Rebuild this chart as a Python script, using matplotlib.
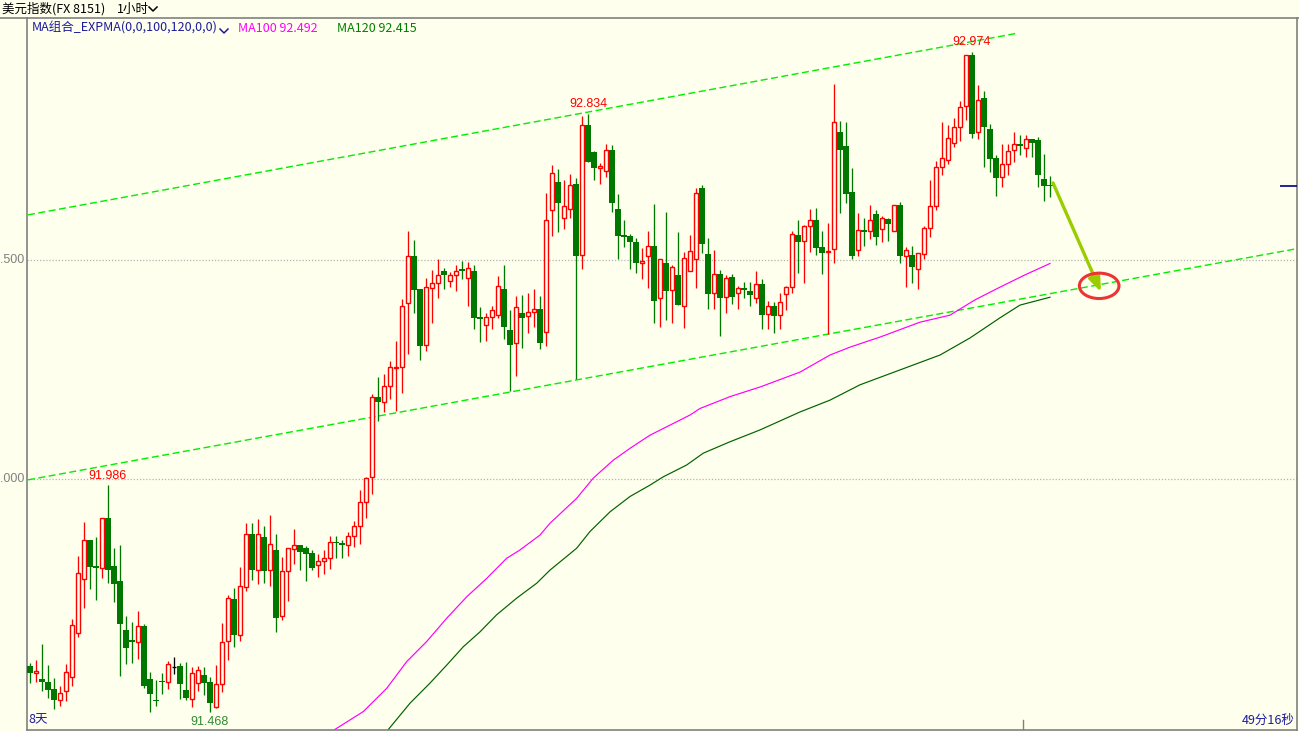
import numpy as np
import matplotlib
matplotlib.use("Agg")
import matplotlib.pyplot as plt
from matplotlib.patches import Ellipse

plt.rcParams['font.family'] = ['Noto Sans CJK SC', 'DejaVu Sans']

# hourly candles, oldest first (USD index, FX 8151)
opens = [
    91.573, 91.556, 91.543, 91.537, 91.521, 91.495, 91.515, 91.547, 91.649, 91.771,
    91.860, 91.801, 91.797, 91.910, 91.801, 91.767, 91.655, 91.632, 91.627, 91.665,
    91.543, 91.496, 91.539, 91.537, 91.571, 91.573, 91.518, 91.498, 91.534, 91.552,
    91.537, 91.479, 91.531, 91.629, 91.725, 91.643, 91.754, 91.874, 91.793, 91.868,
    91.793, 91.838, 91.688, 91.789, 91.840, 91.849, 91.842, 91.831, 91.803, 91.812,
    91.819, 91.856, 91.853, 91.849, 91.869, 91.892, 91.947, 92.004, 92.187, 92.176,
    92.212, 92.253, 92.255, 92.401, 92.509, 92.434, 92.305, 92.437, 92.447, 92.475,
    92.451, 92.465, 92.479, 92.460, 92.475, 92.370, 92.351, 92.369, 92.374, 92.434,
    92.340, 92.310, 92.378, 92.371, 92.381, 92.388, 92.335, 92.613, 92.678, 92.597,
    92.616, 92.674, 92.511, 92.808, 92.747, 92.709, 92.703, 92.750, 92.616, 92.557,
    92.555, 92.541, 92.494, 92.508, 92.532, 92.413, 92.493, 92.431, 92.466, 92.396,
    92.476, 92.502, 92.665, 92.514, 92.424, 92.467, 92.415, 92.461, 92.424, 92.436,
    92.429, 92.413, 92.445, 92.376, 92.395, 92.374, 92.422, 92.438, 92.556, 92.543,
    92.577, 92.591, 92.530, 92.518, 92.524, 92.792, 92.760, 92.655, 92.522, 92.568,
    92.566, 92.604, 92.570, 92.593, 92.566, 92.625, 92.508, 92.511, 92.479, 92.513,
    92.572, 92.623, 92.712, 92.728, 92.766, 92.803, 92.851, 92.968, 92.792, 92.869,
    92.798, 92.734, 92.689, 92.719, 92.750, 92.764, 92.755, 92.776, 92.774, 92.685,
    92.671,
]
highs = [
    91.579, 91.587, 91.623, 91.575, 91.546, 91.528, 91.578, 91.680, 91.824, 91.902,
    91.861, 91.868, 91.911, 91.986, 91.842, 91.849, 91.687, 91.673, 91.699, 91.669,
    91.559, 91.541, 91.556, 91.584, 91.594, 91.580, 91.582, 91.570, 91.573, 91.570,
    91.549, 91.575, 91.672, 91.735, 91.750, 91.798, 91.900, 91.900, 91.909, 91.893,
    91.918, 91.874, 91.822, 91.842, 91.886, 91.849, 91.848, 91.838, 91.829, 91.837,
    91.870, 91.870, 91.860, 91.879, 91.903, 91.975, 92.005, 92.194, 92.233, 92.240,
    92.269, 92.315, 92.411, 92.566, 92.546, 92.434, 92.458, 92.477, 92.502, 92.482,
    92.473, 92.489, 92.498, 92.495, 92.489, 92.392, 92.378, 92.396, 92.463, 92.489,
    92.386, 92.418, 92.420, 92.425, 92.433, 92.418, 92.652, 92.716, 92.707, 92.683,
    92.696, 92.687, 92.829, 92.834, 92.749, 92.721, 92.765, 92.762, 92.651, 92.591,
    92.559, 92.550, 92.527, 92.566, 92.628, 92.502, 92.610, 92.488, 92.564, 92.518,
    92.557, 92.664, 92.671, 92.550, 92.523, 92.477, 92.466, 92.467, 92.441, 92.449,
    92.449, 92.475, 92.457, 92.406, 92.404, 92.425, 92.441, 92.567, 92.591, 92.581,
    92.616, 92.619, 92.566, 92.584, 92.902, 92.817, 92.814, 92.710, 92.607, 92.595,
    92.625, 92.613, 92.601, 92.597, 92.626, 92.632, 92.530, 92.532, 92.515, 92.578,
    92.683, 92.726, 92.815, 92.808, 92.825, 92.863, 92.968, 92.974, 92.900, 92.886,
    92.811, 92.740, 92.764, 92.764, 92.792, 92.785, 92.785, 92.776, 92.781, 92.742,
    92.692,
]
lows = [
    91.535, 91.537, 91.516, 91.499, 91.474, 91.482, 91.494, 91.528, 91.640, 91.706,
    91.749, 91.723, 91.775, 91.762, 91.720, 91.551, 91.577, 91.579, 91.589, 91.523,
    91.469, 91.482, 91.509, 91.521, 91.555, 91.497, 91.495, 91.480, 91.517, 91.507,
    91.468, 91.478, 91.514, 91.587, 91.617, 91.630, 91.744, 91.769, 91.760, 91.763,
    91.756, 91.651, 91.679, 91.722, 91.807, 91.792, 91.768, 91.792, 91.777, 91.782,
    91.795, 91.820, 91.820, 91.825, 91.845, 91.852, 91.912, 91.966, 92.133, 92.154,
    92.183, 92.156, 92.197, 92.286, 92.379, 92.272, 92.293, 92.357, 92.414, 92.434,
    92.439, 92.430, 92.456, 92.396, 92.343, 92.313, 92.316, 92.343, 92.368, 92.320,
    92.202, 92.236, 92.300, 92.334, 92.348, 92.297, 92.304, 92.555, 92.565, 92.571,
    92.597, 92.228, 92.480, 92.724, 92.683, 92.674, 92.689, 92.610, 92.502, 92.529,
    92.479, 92.470, 92.457, 92.437, 92.357, 92.348, 92.363, 92.357, 92.397, 92.345,
    92.476, 92.437, 92.517, 92.387, 92.389, 92.327, 92.378, 92.400, 92.387, 92.414,
    92.394, 92.401, 92.343, 92.343, 92.333, 92.342, 92.386, 92.425, 92.471, 92.448,
    92.518, 92.512, 92.467, 92.330, 92.492, 92.608, 92.631, 92.503, 92.510, 92.533,
    92.549, 92.535, 92.541, 92.544, 92.566, 92.492, 92.439, 92.448, 92.433, 92.503,
    92.553, 92.615, 92.695, 92.719, 92.758, 92.771, 92.820, 92.779, 92.776, 92.712,
    92.702, 92.647, 92.667, 92.694, 92.724, 92.740, 92.736, 92.736, 92.667, 92.635,
    92.643,
]
closes = [
    91.556, 91.562, 91.536, 91.518, 91.495, 91.511, 91.559, 91.667, 91.785, 91.860,
    91.800, 91.797, 91.910, 91.792, 91.760, 91.670, 91.613, 91.627, 91.664, 91.528,
    91.508, 91.493, 91.536, 91.578, 91.571, 91.531, 91.501, 91.556, 91.563, 91.535,
    91.489, 91.531, 91.627, 91.728, 91.643, 91.755, 91.874, 91.793, 91.874, 91.791,
    91.851, 91.683, 91.790, 91.842, 91.849, 91.834, 91.829, 91.797, 91.812, 91.819,
    91.855, 91.853, 91.849, 91.869, 91.892, 91.947, 92.002, 92.187, 92.176, 92.212,
    92.256, 92.256, 92.394, 92.509, 92.432, 92.304, 92.438, 92.447, 92.465, 92.466,
    92.465, 92.476, 92.476, 92.481, 92.368, 92.365, 92.369, 92.385, 92.440, 92.348,
    92.307, 92.392, 92.368, 92.381, 92.387, 92.311, 92.591, 92.698, 92.631, 92.623,
    92.671, 92.510, 92.808, 92.724, 92.711, 92.714, 92.750, 92.631, 92.555, 92.553,
    92.540, 92.494, 92.497, 92.532, 92.407, 92.502, 92.430, 92.483, 92.398, 92.504,
    92.520, 92.652, 92.536, 92.423, 92.468, 92.414, 92.460, 92.416, 92.435, 92.432,
    92.419, 92.445, 92.375, 92.394, 92.373, 92.403, 92.438, 92.559, 92.540, 92.577,
    92.591, 92.528, 92.517, 92.519, 92.814, 92.750, 92.651, 92.510, 92.568, 92.564,
    92.591, 92.553, 92.596, 92.582, 92.625, 92.508, 92.522, 92.485, 92.515, 92.572,
    92.623, 92.712, 92.734, 92.778, 92.803, 92.849, 92.968, 92.788, 92.865, 92.804,
    92.731, 92.688, 92.719, 92.748, 92.764, 92.761, 92.776, 92.766, 92.695, 92.670,
    92.668,
]

# EXPMA lines (bar index, value)
ma100_x = [50.8, 55.55, 59.45, 62.78, 66.12, 69.45, 72.78, 76.12, 79.45, 81.67,
           85.0, 86.67, 91.12, 93.88, 97.22, 100.0, 103.33, 106.67, 110.0, 111.67,
           116.67, 121.67, 128.33, 133.33, 136.67, 141.67, 148.33, 153.33, 157.5,
           161.67, 165.83, 170.0]
ma100_y = [91.428, 91.469, 91.522, 91.583, 91.629, 91.682, 91.731, 91.773, 91.819, 91.838,
           91.872, 91.899, 91.956, 92.002, 92.043, 92.070, 92.100, 92.123, 92.146, 92.161,
           92.188, 92.210, 92.244, 92.283, 92.301, 92.324, 92.358, 92.374, 92.409,
           92.438, 92.466, 92.492]
ma120_x = [59.72, 63.33, 66.67, 69.45, 72.22, 75.0, 77.78, 81.12, 84.45, 86.67,
           91.12, 93.33, 96.67, 100.0, 103.33, 105.55, 109.45, 112.22, 116.67,
           121.67, 128.33, 133.33, 138.33, 145.0, 151.67, 156.67, 161.67, 165.0, 170.0]
ma120_y = [91.428, 91.488, 91.534, 91.575, 91.617, 91.651, 91.690, 91.728, 91.762, 91.792,
           91.842, 91.880, 91.925, 91.960, 91.986, 92.005, 92.032, 92.059, 92.085,
           92.112, 92.153, 92.180, 92.215, 92.249, 92.283, 92.322, 92.368, 92.397, 92.415]

# hand-drawn channel lines
upper_x = [-0.33, 164.67]
upper_y = [92.603, 93.018]
lower_x = [-0.33, 210.83]
lower_y = [91.998, 92.525]

# arrow + circle target
arrow_from = (170.5, 92.676)
arrow_to = (178.5, 92.427)
circle_xy = (178.2, 92.441)

grid_levels = [92.5, 92.0]
grid_labels = ['92.500', '92.000']

# extremes marked on chart: (bar index, value, colour, pixel offset)
marks = [(13, 91.986, '#ff0000', 3), (30, 91.468, '#2e8b2e', -4),
         (93, 92.834, '#ff0000', 4), (157, 92.974, '#ff0000', 4)]

BG = '#ffffee'
RED = '#ff0000'
GREEN = '#007800'

W, H = 1299, 732
fig = plt.figure(figsize=(W / 100, H / 100), dpi=100, facecolor=BG)
ax = fig.add_axes([27 / W, 2 / H, 1270 / W, 712 / H], facecolor=BG)
ax.set_xlim(-0.5, 211.17)
ax.set_ylim(91.4269, 93.0525)
ax.set_xticks([])
ax.set_yticks([])
for side in ['left', 'right', 'bottom']:
    ax.spines[side].set_color('#808080')
    ax.spines[side].set_linewidth(1.2)
ax.spines['top'].set_visible(False)

# grid
for lv in grid_levels:
    ax.axhline(lv, color='#b4b4b4', lw=0.9, ls=(0, (1, 1.5)), zorder=0)

px = 1 / 1.39  # 1 pixel in points

o = np.array(opens)
h = np.array(highs)
l = np.array(lows)
c = np.array(closes)
idx = np.arange(len(o))
up = c > o
dn = c < o
flat = c == o
bw = 0.72
min_h = 0.0025

# wicks
ax.vlines(idx[dn], l[dn], h[dn], color=GREEN, lw=1.3 * px, zorder=3)
ax.vlines(idx[up], np.maximum(o[up], c[up]), h[up], color=RED, lw=1.3 * px, zorder=3)
ax.vlines(idx[up], l[up], np.minimum(o[up], c[up]), color=RED, lw=1.3 * px, zorder=3)
ax.vlines(idx[flat], l[flat], h[flat], color='black', lw=1.3 * px, zorder=3)
ax.hlines(o[flat], idx[flat] - bw / 2, idx[flat] + bw / 2, color='black', lw=1.3 * px, zorder=3)

# bodies
dn_h = np.maximum(o[dn] - c[dn], min_h)
ax.bar(idx[dn], dn_h, bottom=c[dn], width=bw + 0.12, color=GREEN, lw=0, zorder=4)
up_h = np.maximum(c[up] - o[up], min_h)
ax.bar(idx[up], up_h, bottom=o[up], width=bw, facecolor=BG, edgecolor=RED,
       lw=1.4 * px, zorder=4)

# moving averages
ax.plot(ma100_x, ma100_y, color='#ff00ff', lw=1.2 * px, zorder=2)
ax.plot(ma120_x, ma120_y, color='#006400', lw=1.2 * px, zorder=2)

# channel
ax.plot(upper_x, upper_y, color='#00ee00', lw=1.4 * px, dashes=(5, 2.5), zorder=1)
ax.plot(lower_x, lower_y, color='#00ee00', lw=1.4 * px, dashes=(5, 2.5), zorder=1)

# forecast arrow and circle
ax.annotate('', xy=arrow_to, xytext=arrow_from,
            arrowprops=dict(arrowstyle='-|>,head_length=0.9,head_width=0.35',
                            color='#9acd00', lw=2.4, shrinkA=0, shrinkB=0), zorder=6)
ax.add_patch(Ellipse(circle_xy, 6.6, 0.058, fill=False, edgecolor='#ee3333', lw=2.2, zorder=6))

# last price marker on right edge
ax.hlines(closes[-1], 208.3, 211.17, color='#000080', lw=1.2, zorder=5)

for bx, val, col, off in marks:
    ax.annotate('%.3f' % val, (bx, val), xytext=(0, off), textcoords='offset pixels',
                ha='center', va='bottom' if off > 0 else 'top', color=col,
                fontsize=9, family=['Liberation Sans'], zorder=7)

# overlay in pixel coordinates for the frame text
ov = fig.add_axes([0, 0, 1, 1], facecolor='none')
ov.set_xlim(0, W)
ov.set_ylim(H, 0)
ov.axis('off')
ov.plot([0, W], [18, 18], color='#808080', lw=1.2)
ov.plot([1023, 1023], [720, 729], color='#808080', lw=1)

ov.text(2, 9, '美元指数(FX 8151)', fontsize=9, va='center', color='black')
ov.text(117, 9, '1小时', fontsize=9, va='center', color='black')
ov.plot([149, 153, 157], [7, 11, 7], color='black', lw=1.1)

ov.text(32, 28, 'MA组合_EXPMA(0,0,100,120,0,0)', fontsize=9, va='center', color='#1c1c9c')
ov.plot([220, 224, 228], [29, 33, 29], color='#1c1c9c', lw=1.1)
ov.text(238, 28, 'MA100 92.492', fontsize=9, va='center', color='#ff00ff')
ov.text(337, 28, 'MA120 92.415', fontsize=9, va='center', color='#008000')

for lv, lab in zip(grid_levels, grid_labels):
    ypx = 18 + (93.0525 - lv) / (93.0525 - 91.4269) * 712
    ov.text(25, ypx, lab, fontsize=9, ha='right', va='center', color='#808080',
            family=['Liberation Sans'])

ov.text(28, 720, '8天', fontsize=9, va='center', color='#1c1c9c')
ov.text(1295, 720, '49分16秒', fontsize=9, ha='right', va='center', color='#1c1c9c')

fig.savefig('out.png', dpi=100, facecolor=BG)
